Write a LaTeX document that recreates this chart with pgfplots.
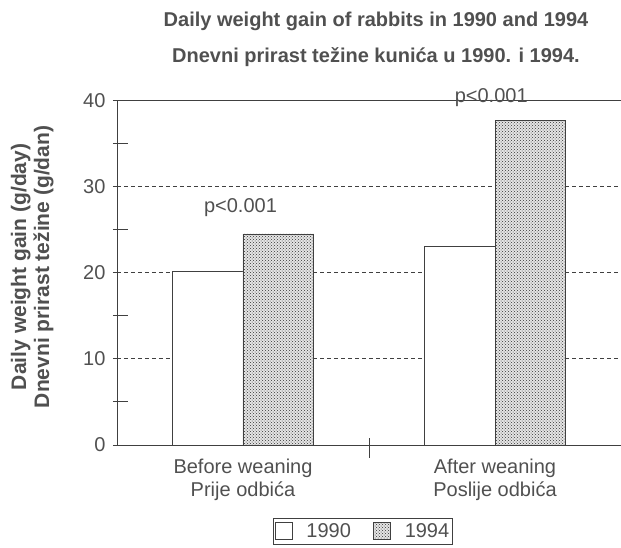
\documentclass[border=0pt]{standalone}
\usepackage{pgfplots}
\pgfplotsset{compat=1.18}
\usepackage{fontspec}
\setmainfont{Liberation Sans}
\usetikzlibrary{patterns}
\definecolor{txt}{HTML}{505050}
\definecolor{ln}{HTML}{404040}
\begin{document}
\begin{tikzpicture}
\path[use as bounding box] (-117pt,-102pt) rectangle (504pt,445pt);
\begin{axis}[
  at={(0,0)}, anchor=south west,
  scale only axis, width=504pt, height=344.5pt,
  xmin=-0.5, xmax=1.5, ymin=0, ymax=40,
  clip=false,
  axis x line*=bottom, axis y line*=left,
  axis line style={ln, line width=0.9pt},
  ybar=0pt, bar width=0.28,
  xtick={0,1},
  xticklabels={{Before weaning\\Prije odbića},{After weaning\\Poslije odbića}},
  x tick style={draw=none},
  xticklabel style={align=center, font=\fontsize{20}{23}\selectfont, text=txt, yshift=-6pt},
  ytick={0,10,20,30,40}, minor y tick num=1,
  y tick style={ln, line width=0.9pt},
  tick align=center, major tick length=8pt, minor tick length=15pt,
  every minor tick/.append style={xshift=3.5pt},
  yticklabel style={font=\fontsize{20}{23}\selectfont, text=txt, xshift=-4pt},
  /pgf/number format/assume math mode=true,
  ymajorgrids, major grid style={ln, line width=0.9pt, dash pattern=on 4pt off 3pt},
  ylabel={Daily weight gain (g/day)\\Dnevni prirast težine (g/dan)},
  ylabel style={align=center, font=\bfseries\fontsize{21}{23}\selectfont, text=txt, at={(axis description cs:-0.168,0.517)}, anchor=center, rotate=0},
  legend columns=2,
  legend style={at={(axis description cs:0.488,-0.212)}, anchor=north, draw=ln, line width=0.9pt,
    font=\fontsize{20}{22}\selectfont, text=txt, inner xsep=1pt, inner ysep=3pt,
    /tikz/every odd column/.append style={column sep=12pt},
    /tikz/every even column/.append style={column sep=20pt}},
  legend image code/.code={\draw[#1, line width=0.8pt] (0pt,-8pt) rectangle (17pt,9pt);},
]
\addplot[draw=ln, line width=0.9pt, fill=white] coordinates {(0,20.2) (1,23.1)};
\addplot[draw=ln, line width=0.9pt, fill=black!10, postaction={pattern=crosshatch dots, pattern color=black!80}] coordinates {(0,24.5) (1,37.7)};
\legend{1990,1994}
\draw[ln, line width=0.9pt] (axis cs:-0.5,40) -- (axis cs:1.5,40);
\draw[ln, line width=0.9pt] ([yshift=7pt]axis cs:0.5,0) -- ([yshift=-13pt]axis cs:0.5,0);
\node[anchor=base, text=txt, font=\fontsize{20}{22}\selectfont] at (axis cs:-0.01,27.0) {p<0.001};
\node[anchor=base, text=txt, font=\fontsize{20}{22}\selectfont] at (axis cs:0.985,39.8) {p<0.001};
\end{axis}
\node[anchor=base, text=txt, font=\bfseries\fontsize{20}{22}\selectfont] at (259pt,418pt) {Daily weight gain of rabbits in 1990 and 1994};
\node[anchor=base, text=txt, font=\bfseries\fontsize{20}{22}\selectfont] at (259pt,382pt) {Dnevni prirast težine kunića u 1990. i 1994.};
\end{tikzpicture}
\end{document}
